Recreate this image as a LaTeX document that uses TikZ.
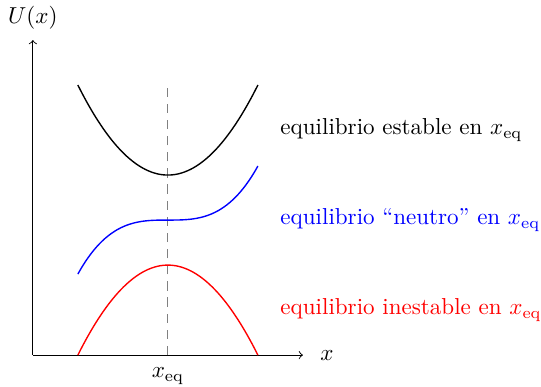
\documentclass[tikz,border=0pt]{standalone}
\usepackage{amsmath}
\begin{document}
\begin{tikzpicture}[x=0.686cm,y=0.686cm,
  curva/.style={semithick, domain=1:5, samples=60, smooth},
  etiq/.style={anchor=west}]
\useasboundingbox (-0.73,-0.69) rectangle (11.29,7.89);
\coordinate (O) at (0,0);
\coordinate (xmax) at (6,0);
\coordinate (ymax) at (0,7);
\coordinate (eqtop) at (3,6);
\coordinate (eqbot) at (3,0);
\draw[->, thin] (O) -- (xmax) node[right=4pt] (xlab) {$x$};
\draw[->, thin] (O) -- (ymax) node[above=1pt] (ulab) {$U(x)$};
\draw[gray, dash pattern=on 4pt off 3pt] (eqbot) -- (eqtop);
\node[below=2pt] (xeq) at (eqbot) {$x_{\mathrm{eq}}$};
\draw[curva, black] plot (\x, {4+0.5*(\x-3)^2});
\draw[curva, blue] plot (\x, {3+0.15*(\x-3)^3});
\draw[curva, red] plot (\x, {2-0.5*(\x-3)^2});
\node[etiq] (est) at (5.32,5) {equilibrio estable en $x_{\mathrm{eq}}$};
\node[etiq, blue] (neu) at (5.32,3) {equilibrio ``neutro'' en $x_{\mathrm{eq}}$};
\node[etiq, red] (ine) at (5.32,1) {equilibrio inestable en $x_{\mathrm{eq}}$};
\end{tikzpicture}
\end{document}
